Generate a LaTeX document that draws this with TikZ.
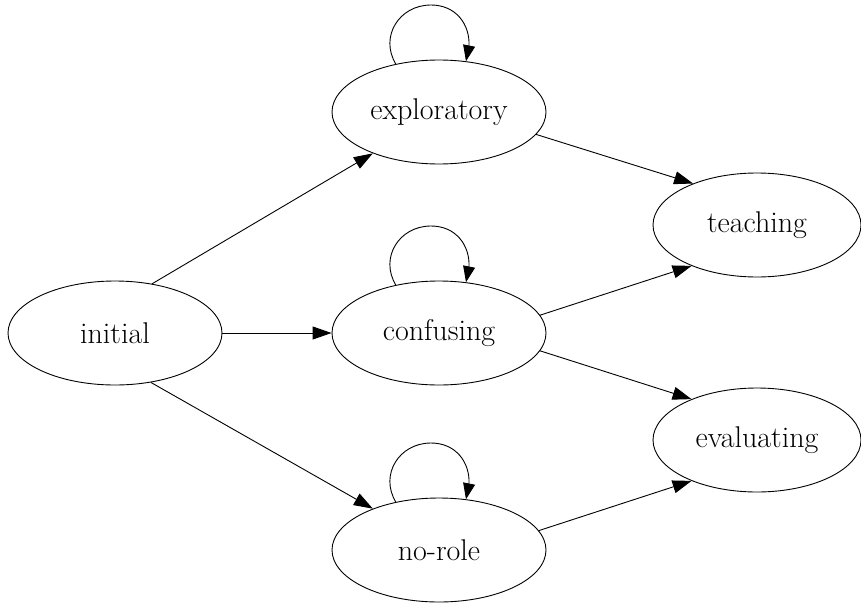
\documentclass[tikz,border=0pt]{standalone}
\usetikzlibrary{shapes.geometric,arrows.meta,bending}
\begin{document}
\begin{tikzpicture}[x=1pt,y=-1pt,
  state/.style={ellipse,draw,line width=0.9pt,inner sep=0pt,minimum width=214pt,minimum height=104pt,font=\fontsize{30}{36}\selectfont},
  rstate/.style={state,minimum width=208pt},
  arr/.style={line width=0.9pt,-{Triangle[length=19pt,width=13pt]}},
  selfloop/.style={line width=0.9pt,-{Triangle[length=16pt,width=12pt,flex]}}]
\useasboundingbox (0,0) rectangle (861,602);
\node[state] (initial) at (115,333) {initial};
\node[state] (exploratory) at (439,112) {exploratory};
\node[state] (confusing) at (439,333) {confusing};
\node[state] (norole) at (439,550) {no-role};
\node[rstate] (teaching) at (757,225) {teaching};
\node[rstate] (evaluating) at (757,440) {evaluating};

\draw[arr] (initial.53.5) -- (exploratory.212.6);
\draw[arr] (initial.east) -- (confusing.west);
\draw[arr] (initial.306.5) -- (norole.148.8);
\draw[arr] (exploratory.-13.2) -- (teaching.147.1);
\draw[arr] (confusing.10.6) -- (teaching.212.9);
\draw[arr] (confusing.-10.6) -- (evaluating.148.4);
\draw[arr] (norole.11.1) -- (evaluating.212.2);

\foreach \n in {exploratory,confusing,norole}{
  \draw[selfloop] (\n.132) .. controls +(-16.4,-27.3) and +(-31.9,0) .. ([shift={(-8,-107)}]\n.center)
    .. controls +(30,0) and +(10,-28) .. (\n.62);
}
\end{tikzpicture}
\end{document}
